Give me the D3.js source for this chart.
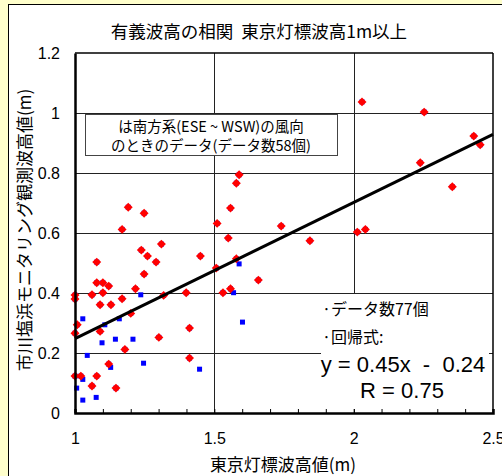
<!DOCTYPE html>
<html><head><meta charset="utf-8">
<script src="https://cdn.jsdelivr.net/npm/d3@7"></script>
<style>
html,body{margin:0;padding:0;background:#FFFFCC;}
svg{display:block;}
</style></head>
<body><svg id="c" width="502" height="476"></svg>
<script>
// ---- data ----
const titleText = "有義波高の相関  東京灯標波高1m以上";
const xTitle = "東京灯標波高値(m)";
const yTitle = "市川塩浜モニタリング観測波高値(m)";
const xTickValues = [1, 1.5, 2, 2.5];
const xTickLabels = ["1", "1.5", "2", "2.5"];
const yTickValues = [0, 0.2, 0.4, 0.6, 0.8, 1.0, 1.2];
const yTickLabels = ["0", "0.2", "0.4", "0.6", "0.8", "1", "1.2"];
// southerly wind (red diamonds)
const southX = [1.078,1.100,1.121,1.248,1.000,1.000,1.061,1.100,1.217,1.090,1.129,1.169,1.200,1.318,1.399,
  1.008,1.000,1.090,1.301,1.411,1.179,1.411,1.121,1.000,1.021,1.078,1.061,1.147,1.191,1.248,1.169,1.238,
  1.260,1.310,1.291,1.078,1.450,1.589,1.579,1.558,1.510,1.740,1.550,1.843,1.579,1.507,1.658,1.558,1.531,
  2.030,2.253,2.431,2.454,2.239,2.354,2.013,2.042];
const southY = [0.434,0.434,0.423,0.463,0.393,0.380,0.394,0.401,0.414,0.361,0.361,0.381,0.332,0.392,0.401,
  0.294,0.266,0.272,0.252,0.283,0.212,0.183,0.163,0.123,0.123,0.123,0.090,0.083,0.686,0.666,0.612,0.543,
  0.523,0.563,0.503,0.503,0.523,0.794,0.766,0.683,0.632,0.623,0.583,0.574,0.514,0.483,0.443,0.414,0.401,
  1.037,1.003,0.923,0.894,0.834,0.754,0.603,0.612];
// other wind directions (blue squares)
const otherX = [1.236,1.028,1.159,1.107,1.097,1.145,1.208,1.044,1.128,1.246,1.447,1.028,1.006,1.028,1.076,1.589,1.569,1.601];
const otherY = [0.394,0.314,0.314,0.294,0.234,0.246,0.246,0.192,0.152,0.166,0.146,0.112,0.083,0.043,0.052,0.497,0.401,0.303];
// regression line end points
const lineX = [1, 2.5];
const lineY = [0.248, 0.929];
const note1 = ["は南方系(ESE ~ WSW)の風向", "のときのデータ(データ数58個)"];
const note2 = ["·データ数77個", "·回帰式:"];
const eqText = ["y = 0.45x  -  0.24", "R = 0.75"];

// ---- layout ----
const svg = d3.select("#c");
const L = 75, R = 493, T = 53, B = 413;
const x = d3.scaleLinear().domain([1, 2.5]).range([L, R]);
const y = d3.scaleLinear().domain([0, 1.2]).range([B, T]);
const CJK = "'Noto Sans CJK JP','Noto Sans',sans-serif";
const LAT = "'Liberation Sans',Arial,sans-serif";

svg.append("rect").attr("x",0).attr("y",0).attr("width",502).attr("height",476).attr("fill","#FFFFCC");
svg.append("rect").attr("x",8.5).attr("y",4.5).attr("width",600).attr("height",600)
  .attr("fill","#fff").attr("stroke","#000").attr("stroke-width",1);

// grid
const gy = svg.append("g").attr("transform",`translate(${L},0)`)
  .call(d3.axisLeft(y).tickValues(yTickValues.slice(1,-1)).tickSize(-(R-L)).tickFormat(""));
gy.select(".domain").remove();
gy.selectAll("line").attr("stroke","#222").attr("stroke-width",1).attr("shape-rendering","crispEdges");
const gx = svg.append("g").attr("transform",`translate(0,${B})`)
  .call(d3.axisBottom(x).tickValues(xTickValues.slice(1,-1)).tickSize(-(B-T)).tickFormat(""));
gx.select(".domain").remove();
gx.selectAll("line").attr("stroke","#222").attr("stroke-width",1).attr("shape-rendering","crispEdges");

// note boxes (white, cover grid)
svg.append("rect").attr("x",310).attr("y",294).attr("width",137).attr("height",30).attr("fill","#fff");
svg.append("rect").attr("x",310).attr("y",322).attr("width",90).attr("height",31).attr("fill","#fff");
svg.append("rect").attr("x",321).attr("y",351).attr("width",168).attr("height",58).attr("fill","#fff");

// points: blue squares for all, red diamonds for southerly
const allX = otherX.concat(southX), allY = otherY.concat(southY);
svg.append("g").selectAll("rect").data(allX).join("rect")
  .attr("x",(d,i)=>x(d)-2.5).attr("y",(d,i)=>y(allY[i])-2.5)
  .attr("width",5).attr("height",5).attr("fill","#0000FF");
const diamond = d3.symbol().type(d3.symbolSquare).size(40);
svg.append("g").selectAll("path").data(southX).join("path")
  .attr("d",diamond)
  .attr("transform",(d,i)=>`translate(${x(d)},${y(southY[i])}) rotate(45)`)
  .attr("fill","#FF0000");

// regression line
svg.append("path").datum(lineX.map((d,i)=>[d,lineY[i]]))
  .attr("d",d3.line().x(d=>x(d[0])).y(d=>y(d[1])))
  .attr("stroke","#000").attr("stroke-width",3).attr("fill","none");

// frame
svg.append("line").attr("x1",L).attr("x2",R).attr("y1",T).attr("y2",T).attr("stroke","#000").attr("stroke-width",1.5);
svg.append("line").attr("x1",R).attr("x2",R).attr("y1",T).attr("y2",B).attr("stroke","#000").attr("stroke-width",1.5);

// axes
const ax = svg.append("g").attr("transform",`translate(0,${B})`)
  .call(d3.axisBottom(x).tickValues(d3.range(11,26).map(v=>v/10)).tickSize(-4).tickFormat(""));
ax.select(".domain").attr("stroke","#000").attr("stroke-width",2.5);
ax.selectAll("line").attr("stroke","#000").attr("stroke-width",1);
const axl = svg.append("g").attr("transform",`translate(0,${B})`)
  .call(d3.axisBottom(x).tickValues(xTickValues).tickSize(0).tickPadding(20).tickFormat((d,i)=>xTickLabels[i]));
axl.select(".domain").remove();
axl.selectAll("text").attr("font-family",LAT).attr("font-size",16).attr("fill","#000");
const ay = svg.append("g").attr("transform",`translate(${L},0)`)
  .call(d3.axisLeft(y).tickValues(yTickValues).tickSize(0).tickPadding(15).tickFormat((d,i)=>yTickLabels[i]));
ay.select(".domain").attr("stroke","#000").attr("stroke-width",2.5);
ay.selectAll("text").attr("font-family",LAT).attr("font-size",16).attr("fill","#000");

// titles
svg.append("text").attr("x",259).attr("y",38).attr("text-anchor","middle")
  .attr("font-family",CJK).attr("font-size",17.5).style("white-space","pre").text(titleText);
svg.append("text").attr("x",283).attr("y",471).attr("text-anchor","middle")
  .attr("font-family",CJK).attr("font-size",17).text(xTitle);
svg.append("text").attr("transform","translate(31,230) rotate(-90)").attr("text-anchor","middle")
  .attr("font-family",CJK).attr("font-size",17).text(yTitle);

// note 1 box
svg.append("rect").attr("x",85.5).attr("y",114.5).attr("width",252).attr("height",41)
  .attr("fill","#fff").attr("stroke","#444").attr("stroke-width",1);
svg.selectAll(".n1").data(note1).join("text").attr("class","n1")
  .attr("x",211).attr("y",(d,i)=>132+i*18.5).attr("text-anchor","middle")
  .attr("font-family",CJK).attr("font-size",14.5).text(d=>d);

// note 2
svg.selectAll(".n2").data(note2).join("text").attr("class","n2")
  .attr("x",322).attr("y",(d,i)=>315+i*28).attr("font-family",CJK).attr("font-size",16).text(d=>d);
svg.selectAll(".eq").data(eqText).join("text").attr("class","eq")
  .attr("x",(d,i)=>i===0?403:402).attr("y",(d,i)=>372+i*26).attr("text-anchor","middle")
  .attr("font-family",LAT).attr("font-size",22).style("white-space","pre").text(d=>d);
</script></body></html>
